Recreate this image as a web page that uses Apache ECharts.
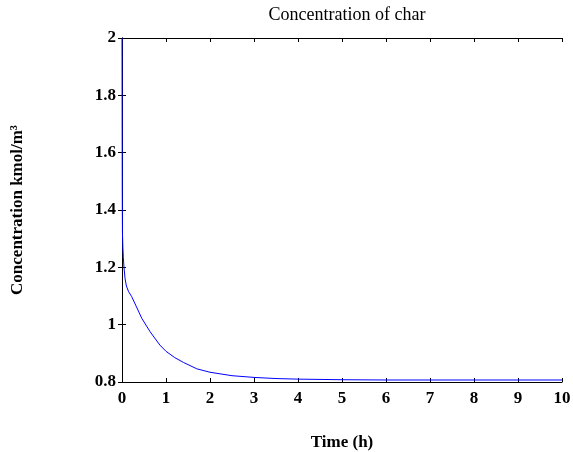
<!DOCTYPE html>
<html>
<head>
    <meta charset="utf-8" />
    <title>Concentration of char</title>
    <script src="https://cdn.jsdelivr.net/npm/echarts@6/dist/echarts.min.js"></script>
    <style>
        body { margin: 0; background: #fff; }
        #main { width: 573px; height: 452px; }
    </style>
</head>
<body>
    <div id="main"></div>
    <script type="text/javascript">
        // values
        var timeH = [0, 0.003, 0.006, 0.01, 0.02, 0.03, 0.045, 0.07, 0.1, 0.15, 0.22, 0.32, 0.45, 0.64, 0.86, 1.0, 1.2, 1.4, 1.7, 2.0, 2.5, 3.0, 3.5, 4.0, 5, 6, 7, 8, 9, 10];
        var charConc = [2, 1.7, 1.45, 1.32, 1.27, 1.235, 1.2, 1.16, 1.135, 1.115, 1.098, 1.065, 1.022, 0.975, 0.929, 0.907, 0.885, 0.868, 0.846, 0.834, 0.822, 0.816, 0.812, 0.810, 0.808, 0.807, 0.807, 0.807, 0.807, 0.807];
        var xTicks = [0, 1, 2, 3, 4, 5, 6, 7, 8, 9, 10];
        var yTicks = [0.8, 1, 1.2, 1.4, 1.6, 1.8, 2];

        var pts = [];
        for (var i = 0; i < timeH.length; i++) {
            pts.push([timeH[i], charConc[i]]);
        }

        var serif = '"Liberation Serif", "DejaVu Serif", serif';
        var lbl = { fontFamily: serif, fontSize: 17, fontWeight: 'bold', color: '#000' };
        var nameLbl = { fontFamily: serif, fontSize: 17, fontWeight: 'bold', color: '#000' };
        var axLine = { show: true, lineStyle: { color: '#000', width: 1 } };
        var tick = { show: true, inside: true, length: 4, lineStyle: { color: '#000' } };

        var myChart = echarts.init(document.getElementById('main'));
        var option = {
            animation: false,
            title: {
                text: 'Concentration of char',
                left: 342,
                textAlign: 'center',
                top: 1,
                textStyle: { fontFamily: serif, fontSize: 18, fontWeight: 'normal', color: '#000' }
            },
            grid: { left: 122, right: 11, top: 38, bottom: 70, containLabel: false, outerBoundsMode: 'none' },
            xAxis: [{
                type: 'value',
                min: xTicks[0],
                max: xTicks[xTicks.length - 1],
                interval: 1,
                name: 'Time (h)',
                nameLocation: 'middle',
                nameGap: 52,
                nameTextStyle: nameLbl,
                axisLine: axLine,
                axisTick: tick,
                axisLabel: lbl,
                splitLine: { show: false }
            }, {
                type: 'value',
                position: 'top',
                min: xTicks[0],
                max: xTicks[xTicks.length - 1],
                interval: 1,
                axisLine: axLine,
                axisTick: tick,
                axisLabel: { show: false },
                splitLine: { show: false }
            }],
            yAxis: [{
                type: 'value',
                min: yTicks[0],
                max: yTicks[yTicks.length - 1],
                interval: 0.2,
                name: 'Concentration kmol/m³',
                nameLocation: 'middle',
                nameGap: 96,
                nameTextStyle: nameLbl,
                axisLine: axLine,
                axisTick: tick,
                axisLabel: {
                    fontFamily: serif, fontSize: 17, fontWeight: 'bold', color: '#000', margin: 6,
                    formatter: function (v) { return String(parseFloat(v.toFixed(1))); }
                },
                splitLine: { show: false }
            }, {
                type: 'value',
                position: 'right',
                min: yTicks[0],
                max: yTicks[yTicks.length - 1],
                interval: 0.2,
                axisLine: axLine,
                axisTick: tick,
                axisLabel: { show: false },
                splitLine: { show: false }
            }],
            series: [{
                name: 'char',
                type: 'line',
                data: pts,
                showSymbol: false,
                symbol: 'none',
                lineStyle: { color: '#0000ff', width: 1 },
                z: 1
            }]
        };
        myChart.setOption(option);
    </script>
</body>
</html>
